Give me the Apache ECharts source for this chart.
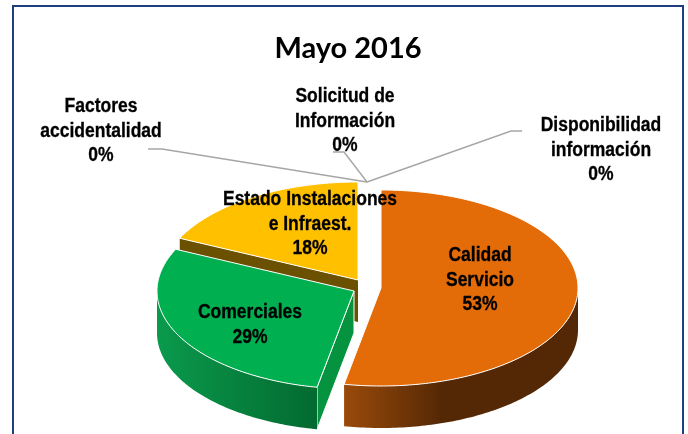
<!DOCTYPE html>
<html>
<head>
<meta charset="utf-8">
<style>html,body{margin:0;padding:0;background:#fff}#chart{width:688px;height:434px}</style>
<script src="https://cdn.jsdelivr.net/npm/echarts@6/dist/echarts.min.js"></script>
</head>
<body>
<div id="chart"></div>
<script>
var categories = ['Calidad\nServicio', 'Comerciales', 'Estado Instalaciones\ne Infraest.', 'Factores\naccidentalidad', 'Solicitud de\nInformación', 'Disponibilidad\ninformación'];
var values = [53, 29, 18, 0, 0, 0];
var topColors = ['#E36C09', '#00B050', '#FFC000'];

// exploded 3d pie: each slice has its own apex, yellow goes first so green covers it
var rx = 197, ry = 98, depth = 42;
var apex = [[381, 288], [354, 291], [358, 280]];
var wallColors = [['#9a4a0a', '#542805'], ['#0a9a4c', '#036a30'], ['#7a5b00', '#6b5000']];
var cutColors = ['#6b3306', '#05933f', '#6b5000'];
var drawOrder = [2, 0, 1];

var labelAt = [[480, 280], [250, 325], [310, 224], [101, 131], [345, 121], [601, 150]];
var leaders = {
    3: [[148, 149], [162, 149], [367, 182]],
    4: [[333, 152], [344, 152], [367, 182]],
    5: [[522, 131], [511, 131], [367, 182]]
};

var total = values.reduce(function (a, b) { return a + b; }, 0);
var starts = [], acc = 0;
values.forEach(function (v) { starts.push(acc); acc += v; });

function rad(pct) { return pct / total * 2 * Math.PI; }
function rim(c, a, dy) {
    return [c[0] + rx * Math.sin(a), c[1] - ry * Math.cos(a) + (dy || 0)];
}
function arc(c, a0, a1, dy) {
    var pts = [], n = Math.max(2, Math.ceil(Math.abs(a1 - a0) * 60));
    for (var i = 0; i <= n; i++) pts.push(rim(c, a0 + (a1 - a0) * i / n, dy));
    return pts;
}

function renderSlice(params, api) {
    var i = api.value(0), c = apex[i];
    var a0 = rad(starts[i]), a1 = rad(starts[i] + values[i]);
    var kids = [];
    function cutFace(a) {
        var r = rim(c, a);
        kids.push({
            type: 'polygon',
            shape: { points: [c, r, [r[0], r[1] + depth], [c[0], c[1] + depth]] },
            style: { fill: cutColors[i], stroke: '#fff', lineWidth: i == 1 ? 1 : 0 }
        });
    }
    // radial faces only show when they look toward the viewer
    if (Math.cos(a0 - Math.PI / 2) < 0) cutFace(a0);
    if (Math.cos(a1 + Math.PI / 2) < 0) cutFace(a1);

    var w0 = Math.max(a0, Math.PI / 2), w1 = Math.min(a1, Math.PI * 1.5);
    if (w1 > w0) {
        var top = arc(c, w0, w1), bottom = arc(c, w1, w0, depth);
        var xs = top.map(function (p) { return p[0]; });
        var left = Math.min.apply(null, xs), right = Math.max.apply(null, xs);
        var lightLeft = i == 0 ? [[0, wallColors[0][0]], [0.42, wallColors[0][1]], [1, wallColors[0][1]]]
            : [[0, wallColors[i][0]], [1, wallColors[i][1]]];
        kids.push({
            type: 'polygon',
            shape: { points: top.concat(bottom) },
            style: {
                fill: new echarts.graphic.LinearGradient(left, 0, right, 0, lightLeft.map(function (s) {
                    return { offset: s[0], color: s[1] };
                }), true)
            }
        });
    }
    kids.push({
        type: 'polygon',
        shape: { points: [c].concat(arc(c, a0, a1)) },
        style: { fill: topColors[i], stroke: '#fff', lineWidth: 1 }
    });
    return { type: 'group', children: kids };
}

function renderLabel(params, api) {
    var i = api.value(0), kids = [];
    if (leaders[i]) {
        kids.push({
            type: 'polyline',
            shape: { points: leaders[i] },
            style: { stroke: '#a6a6a6', lineWidth: 1.4, fill: null }
        });
    }
    // no narrow bold installed, squeeze Liberation Sans to the reference width
    kids.push({
        type: 'text',
        x: labelAt[i][0],
        y: labelAt[i][1],
        scaleX: 0.875,
        style: {
            x: 0,
            y: 0,
            text: categories[i] + '\n' + values[i] + '%',
            font: 'bold 20px "Liberation Sans", sans-serif',
            lineHeight: 24.5,
            fill: '#000',
            stroke: '#000',
            lineWidth: 0.3,
            align: 'center',
            verticalAlign: 'middle'
        }
    });
    return { type: 'group', children: kids };
}

var myChart = echarts.init(document.getElementById('chart'));
var option = {
    backgroundColor: '#fff',
    animation: false,
    title: {
        text: 'Mayo 2016',
        left: 343,
        top: 29,
        textAlign: 'center',
        textStyle: { fontFamily: 'Lato', fontWeight: 'bold', fontSize: 29, color: '#000' }
    },
    graphic: [{
        type: 'rect',
        silent: true,
        shape: { x: 13, y: 6, width: 670, height: 440 },
        style: { fill: null, stroke: '#1f3f7f', lineWidth: 2 }
    }],
    series: [
        {
            type: 'custom',
            coordinateSystem: 'none',
            renderItem: renderSlice,
            data: drawOrder.map(function (i) { return [i]; }),
            z: 2
        },
        {
            type: 'custom',
            coordinateSystem: 'none',
            renderItem: renderLabel,
            data: categories.map(function (n, i) { return [i]; }),
            z: 3
        }
    ]
};
myChart.setOption(option);
</script>
</body>
</html>
